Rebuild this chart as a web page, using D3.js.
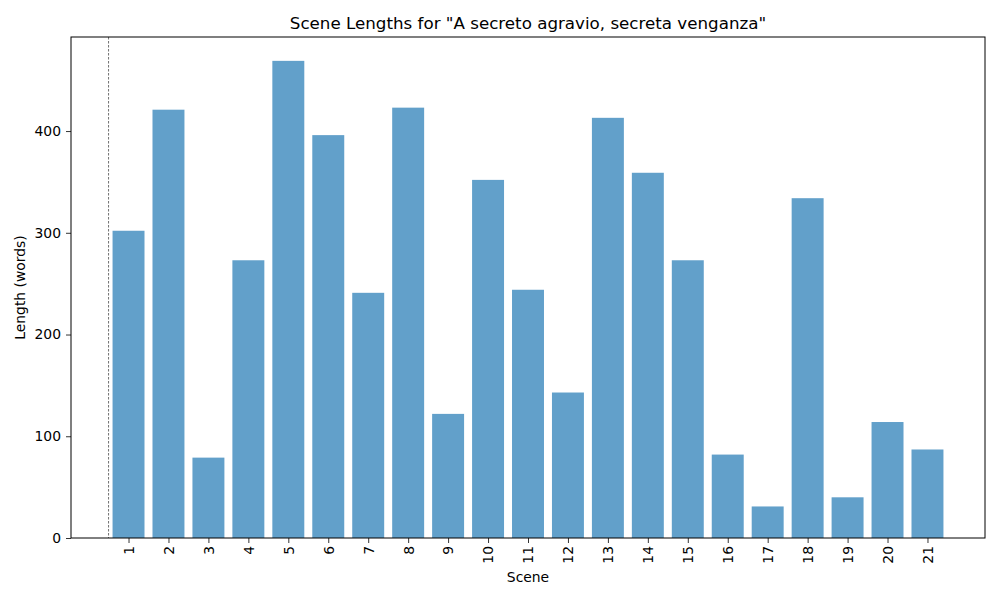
<!DOCTYPE html>
<html>
<head>
<meta charset="utf-8">
<script src="https://cdn.jsdelivr.net/npm/d3@7"></script>
<style>
  body { margin: 0; background: #fff; }
  svg text { font-family: 'DejaVu Sans', sans-serif; fill: #000; }
</style>
</head>
<body>
<svg id="chart" width="1000" height="600"></svg>
<script>
// scene numbers and word counts
var scenes = ["1","2","3","4","5","6","7","8","9","10","11","12","13","14","15","16","17","18","19","20","21"];
var lengths = [302, 421, 79, 273, 469, 396, 241, 423, 122, 352, 244, 143, 413, 359, 273, 82, 31, 334, 40, 114, 87];
var yTicks = [0, 100, 200, 300, 400];

var svg = d3.select("#chart");
var m = {left: 71, top: 37, right: 15, bottom: 62};
var w = 1000 - m.left - m.right;
var h = 600 - m.top - m.bottom;

var g = svg.append("g").attr("transform", "translate(" + m.left + "," + m.top + ")");

// bars sit at 0..n-1, width 0.8, with 5% padding like matplotlib
var n = scenes.length;
var lo = -0.4, hi = n - 1 + 0.4;
var pad = (hi - lo) * 0.05;
var x = d3.scaleLinear().domain([lo - pad, hi + pad]).range([0, w]);
var y = d3.scaleLinear().domain([0, d3.max(lengths) * 1.05]).range([h, 0]);

g.selectAll("rect.bar")
  .data(lengths)
  .enter().append("rect")
  .attr("class", "bar")
  .attr("x", function(d, i) { return x(i - 0.4); })
  .attr("width", x(0.8) - x(0))
  .attr("y", function(d) { return y(d); })
  .attr("height", function(d) { return h - y(d); })
  .attr("fill", "#1f77b4")
  .attr("fill-opacity", 0.7);

// dashed marker before first scene
g.append("line")
  .attr("x1", x(-0.5)).attr("x2", x(-0.5))
  .attr("y1", 0).attr("y2", h)
  .attr("stroke", "#333")
  .attr("stroke-width", 0.7)
  .attr("stroke-dasharray", "2.5,1.5");

// axes
var xAxis = d3.axisBottom(x)
  .tickValues(d3.range(n))
  .tickFormat(function(i) { return scenes[i]; })
  .tickSizeOuter(0)
  .tickSize(5);
var gx = g.append("g").attr("transform", "translate(0," + h + ")").call(xAxis);
gx.selectAll("text")
  .attr("transform", "rotate(-90)")
  .attr("x", -8)
  .attr("y", 0)
  .attr("dy", "0.35em")
  .style("text-anchor", "end")
  .style("font-size", "13.9px");

var gy = g.append("g").call(d3.axisLeft(y).tickValues(yTicks).tickSize(5).tickSizeOuter(0).tickPadding(5));
gy.selectAll("text").style("font-size", "13.9px");

[gx, gy].forEach(function(a) {
  a.select(".domain").remove();
  a.selectAll("line").attr("stroke", "#000").attr("stroke-width", 0.8);
});

// frame
g.append("rect")
  .attr("width", w).attr("height", h)
  .attr("fill", "none")
  .attr("stroke", "#000")
  .attr("stroke-width", 1);

// labels
svg.append("text")
  .attr("x", m.left + w / 2).attr("y", 29)
  .attr("text-anchor", "middle")
  .style("font-size", "16.7px")
  .text('Scene Lengths for "A secreto agravio, secreta venganza"');

svg.append("text")
  .attr("x", m.left + w / 2).attr("y", 582)
  .attr("text-anchor", "middle")
  .style("font-size", "13.9px")
  .text("Scene");

svg.append("text")
  .attr("transform", "translate(25," + (m.top + h / 2) + ") rotate(-90)")
  .attr("text-anchor", "middle")
  .style("font-size", "13.9px")
  .text("Length (words)");
</script>
</body>
</html>
